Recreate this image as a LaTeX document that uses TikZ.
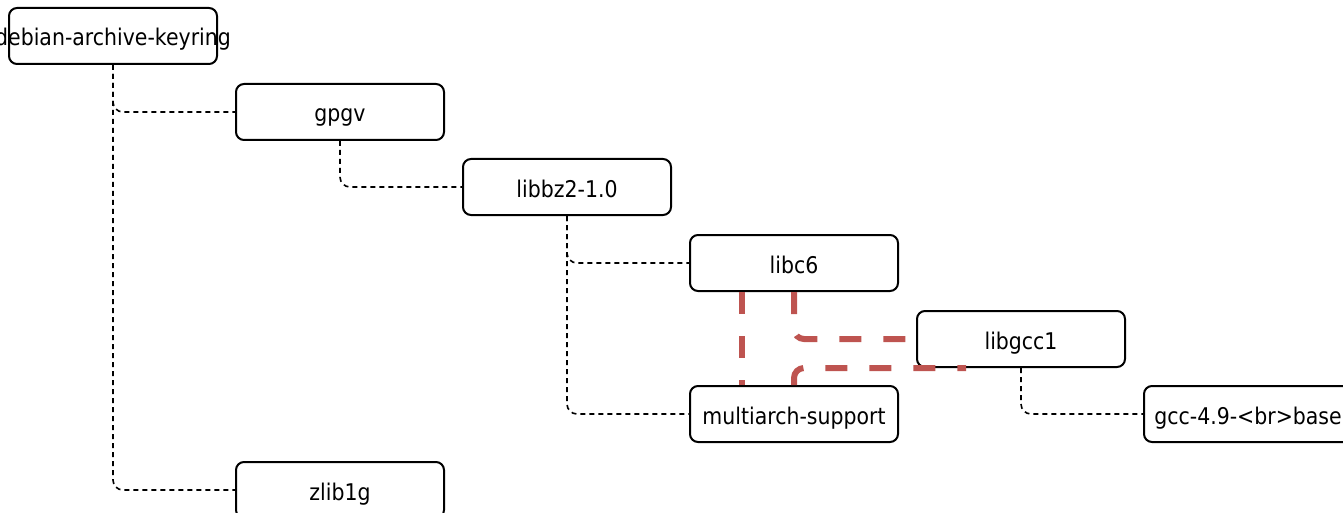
\documentclass[tikz,border=0pt]{standalone}
\usepackage{fontspec}
\setmainfont{DejaVu Sans}[FakeStretch=0.89]
\definecolor{cycred}{RGB}{190,84,80}
\begin{document}
\begin{tikzpicture}[x=1pt, y=-1pt, font=\fontsize{23}{27}\selectfont,
 txt/.style={text height=20pt, text depth=0pt},
 every label/.style={txt},
 pkg/.style={draw, txt, line width=2pt, rounded corners=8pt, minimum width=208pt, minimum height=56pt, inner sep=0pt},
 dep/.style={line width=1.6pt, dash pattern=on 5pt off 4pt, rounded corners=10pt},
 cyc/.style={cycred, line width=6pt, dash pattern=on 22pt off 22pt, rounded corners=10pt}]
\path[use as bounding box, clip](0,0) rectangle (1343,513);
% packages
\node[pkg, label=center:debian-archive-keyring](keyring) at (113,36){};
\node[pkg](gpgv) at (340,112){gpgv};
\node[pkg](libbz) at (567,187){libbz2-1.0};
\node[pkg](libc) at (794,263){libc6};
\node[pkg](libgcc) at (1021,339){libgcc1};
\node[pkg](multi) at (794,414){multiarch-support};
\node[pkg](gccbase) at (1248,414){gcc-4.9-<br>base};
\node[pkg](zlib) at (340,490){zlib1g};
% dependencies
\draw[dep](keyring.south) |- (gpgv.west);
\draw[dep](keyring.south) |- (zlib.west);
\draw[dep](gpgv.south) |- (libbz.west);
\draw[dep](libbz.south) |- (libc.west);
\draw[dep](libbz.south) |- (multi.west);
\draw[dep](libgcc.south) |- (gccbase.west);
% cycle
\draw[cyc]([xshift=53pt]libc.south west) -- ([xshift=53pt]multi.north west);
\draw[cyc](libc.south) |- (libgcc.west);
\draw[cyc](multi.north) |- ([xshift=50pt]libgcc.south west);
\end{tikzpicture}
\end{document}
